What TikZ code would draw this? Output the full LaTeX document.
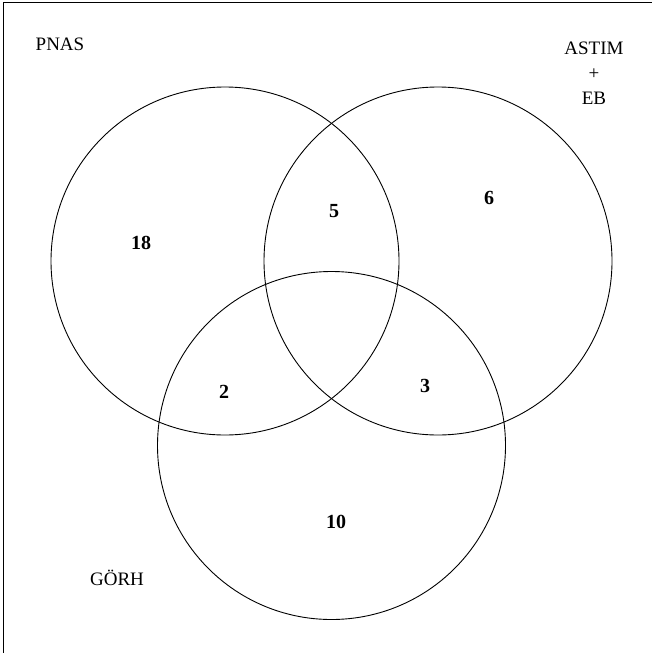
\documentclass[tikz,border=0pt]{standalone}
\usepackage{fontspec}
\setmainfont{Liberation Serif}
\usepackage{tikz}
\usetikzlibrary{positioning}
\tikzstyle{set} = [draw, circle, minimum size=348pt, inner sep=0pt, line width=0.9pt]
\tikzstyle{lbl} = [font=\fontsize{19}{25}\selectfont, inner sep=0pt]
\tikzstyle{num} = [font=\fontsize{20}{22}\selectfont\bfseries, inner sep=0pt]

\begin{document}
\begin{tikzpicture}[x=1pt,y=-1pt]
    \useasboundingbox (0,0) rectangle (651,653);
    % frame
    \draw [line width=1pt] (3,660) -- (3,2) -- (660,2);
    % sets
    \node [set] (pnas) at (225,261) {};
    \node [set] (astim) at (438,261) {};
    \node [set] (gorh) at (331.5,445.5) {};
    % names
    \node [lbl] (npnas) at (60,44) {PNAS};
    \node [lbl, align=center] (nastim) at (594,73) {ASTIM\\+\\EB};
    \node [lbl] (ngorh) at (117,578) {GÖRH};
    % counts
    \node [num] (c18) at (141,243) {18};
    \node [num] (c5) at (334,211) {5};
    \node [num] (c6) at (489,198) {6};
    \node [num] (c2) at (224,392) {2};
    \node [num] (c3) at (425,386) {3};
    \node [num] (c10) at (336,522) {10};
\end{tikzpicture}
\end{document}
